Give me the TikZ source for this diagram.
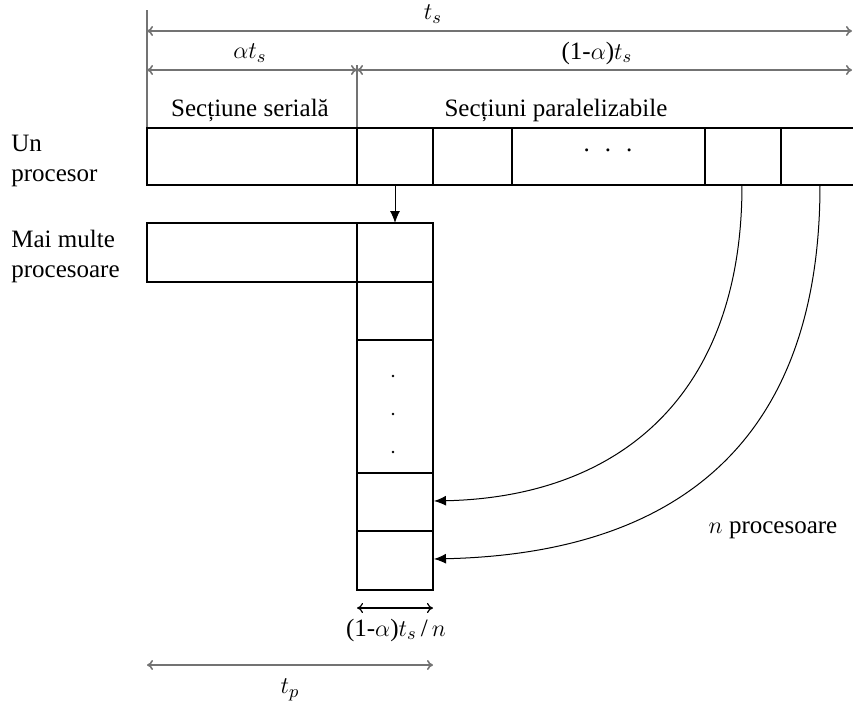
\documentclass[tikz,border=0pt]{standalone}
\usepackage{fontspec}
\setmainfont{Liberation Serif}
\usepackage{amsmath}
\usetikzlibrary{arrows.meta}
\tikzset{>=latex}
\colorlet{dimgray}{black!55}
\tikzset{
  cell/.style={draw, line width=0.75pt},
  guide/.style={dimgray, line width=0.6pt},
  dimline/.style={dimgray, line width=0.8pt, {To[length=3pt,width=5pt]}-{To[length=3pt,width=5pt]}},
  txt/.style={inner sep=0pt, font=\fontsize{12.5}{15}\selectfont},
  flow/.style={line width=0.5pt, -{Latex[length=6pt,width=5pt]}},
}

\begin{document}
\begin{tikzpicture}[x=0.5pt, y=-0.5pt]
    \useasboundingbox (0,0) rectangle (853,702);
    % time spans at the top
    \begin{scope}
        \draw [guide] (147,10) -- (147,128);
        \draw [guide] (357,65) -- (357,128);
        \coordinate (tsL) at (147,31);
        \coordinate (tsR) at (852,31);
        \coordinate (aL) at (147,70);
        \coordinate (aR) at (357,70);
        \coordinate (bR) at (852,70);
        \draw [dimline] (tsL) -- (tsR);
        \draw [dimline] (aL) -- (aR);
        \draw [dimline] (aR) -- (bR);
        \node [txt] (ts) at (433,14) {$t_s$};
        \node [txt] (ats) at (250,53) {$\alpha t_s$};
        \node [txt] (rest) at (597,53) {(1-$\alpha$)$t_s$};
        \node [txt] (serial) at (250,110) {Secțiune serială};
        \node [txt] (paral) at (556,110) {Secțiuni paralelizabile};
    \end{scope}
    % one processor
    \begin{scope}
        \draw [cell] (853,128) -- (147,128) -- (147,185) -- (853,185);
        \foreach \x in {357,433,512,705,781}
            \draw [cell] (\x,128) -- (\x,185);
        \node [txt] (dots) at (608,150) {.\hspace{0.6em}.\hspace{0.6em}.};
        \node [txt, anchor=west, align=left] (one) at (11,161) {Un\\procesor};
    \end{scope}
    % several processors
    \begin{scope}
        \draw [cell] (147,223) rectangle (357,282);
        \draw [cell] (357,223) rectangle (433,590);
        \foreach \y in {282,340,473,531}
            \draw [cell] (357,\y) -- (433,\y);
        \foreach \y in {376,414,452}
            \fill (393,\y) circle (1.4);
        \node [txt, anchor=west, align=left] (many) at (11,256) {Mai multe\\procesoare};
        \node [txt] (np) at (773,530) {$n$ procesoare};
    \end{scope}
    % moving the pieces
    \coordinate (p1) at (395,185);
    \coordinate (q1) at (395,223);
    \coordinate (p2) at (742,185);
    \coordinate (q2) at (434,501);
    \coordinate (p3) at (820,185);
    \coordinate (q3) at (434,559);
    \draw [flow] (p1) -- (q1);
    \draw [flow] (p2) .. controls (742,395) and (620,497) .. (q2);
    \draw [flow] (p3) .. controls (820,420) and (700,553) .. (q3);
    % bottom spans
    \coordinate (cL) at (357,608);
    \coordinate (cR) at (433,608);
    \coordinate (tpL) at (147,665);
    \coordinate (tpR) at (433,665);
    \draw [dimline, black, line width=0.6pt] (cL) -- (cR);
    \draw [dimline] (tpL) -- (tpR);
    \node [txt] (slice) at (396,630) {(1-$\alpha$)$t_s$\,/\,$n$};
    \node [txt] (tp) at (290,690) {$t_p$};
\end{tikzpicture}
\end{document}
